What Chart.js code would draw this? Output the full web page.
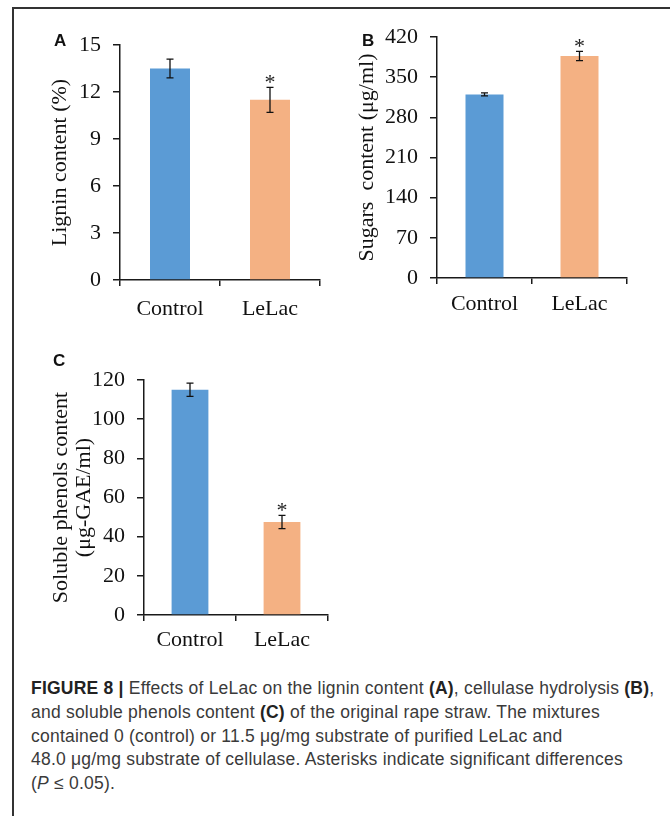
<!DOCTYPE html>
<html>
<head>
<meta charset="utf-8">
<script src="https://cdn.jsdelivr.net/npm/chart.js@4/dist/chart.umd.min.js"></script>
<style>
  html, body { margin: 0; padding: 0; background: #fff; }
  #page { position: relative; width: 670px; height: 816px; overflow: hidden; background: #fff; }
  #frame { position: absolute; left: 12px; top: 7px; width: 680px; height: 830px; box-sizing: border-box;
           border-top: 2px solid #333; border-left: 2px solid #333; z-index: 5; }
  canvas { position: absolute; }
  .panel { position: absolute; font: bold 17px "Liberation Sans", Arial, sans-serif; color: #111; line-height: 1; }
  #caption { position: absolute; left: 31px; top: 677px; font: 17.5px "Liberation Sans", Arial, sans-serif;
             letter-spacing: 0.22px; line-height: 23.8px; color: #3a3a3a; white-space: nowrap; }
  #caption b { color: #222; }
</style>
</head>
<body>
<div id="page">
  <canvas id="chartA" width="340" height="340" style="left:0;top:0"></canvas>
  <canvas id="chartB" width="330" height="340" style="left:340px;top:0"></canvas>
  <canvas id="chartC" width="340" height="320" style="left:0;top:340px"></canvas>
  <div id="frame"></div>
  <div class="panel" style="left:54px;top:32px">A</div>
  <div class="panel" style="left:362px;top:32px">B</div>
  <div class="panel" style="left:53px;top:352px">C</div>
  <div id="caption">
    <b>FIGURE 8 |</b> Effects of LeLac on the lignin content <b>(A)</b>, cellulase hydrolysis <b>(B)</b>,<br>
    and soluble phenols content <b>(C)</b> of the original rape straw. The mixtures<br>
    contained 0 (control) or 11.5 μg/mg substrate of purified LeLac and<br>
    48.0 μg/mg substrate of cellulase. Asterisks indicate significant differences<br>
    (<i>P</i> ≤ 0.05).
  </div>
</div>
<script>
const categories = ["Control", "LeLac"];
const barColors = ["#5B9BD5", "#F4B183"];
const significant = [false, true];

// panel A
const ligninValues = [13.5, 11.5];
const ligninErrors = [0.6, 0.8];
const ligninTicks = [0, 3, 6, 9, 12, 15];

// panel B
const sugarsValues = [320, 387];
const sugarsErrors = [2.5, 8];
const sugarsTicks = [0, 70, 140, 210, 280, 350, 420];

// panel C
const phenolsValues = [115, 47.5];
const phenolsErrors = [3.4, 3.4];
const phenolsTicks = [0, 20, 40, 60, 80, 100, 120];

const axisColor = "#1a1a1a";
const serif = "'Liberation Serif', 'Times New Roman', serif";

// draws the error bars and the asterisks on top of each bar
const errorBarPlugin = {
  id: "errorBars",
  afterDatasetsDraw(chart, args, opts) {
    const { ctx } = chart;
    const yScale = chart.scales.y;
    const meta = chart.getDatasetMeta(0);
    const values = chart.data.datasets[0].data;
    ctx.save();
    ctx.strokeStyle = "#111";
    ctx.lineWidth = 1.3;
    meta.data.forEach((bar, i) => {
      const top = yScale.getPixelForValue(values[i] + opts.errors[i]);
      const bottom = yScale.getPixelForValue(values[i] - opts.errors[i]);
      ctx.beginPath();
      ctx.moveTo(bar.x, top);
      ctx.lineTo(bar.x, bottom);
      ctx.moveTo(bar.x - 3.5, top);
      ctx.lineTo(bar.x + 3.5, top);
      ctx.moveTo(bar.x - 3.5, bottom);
      ctx.lineTo(bar.x + 3.5, bottom);
      ctx.stroke();
      if (significant[i]) {
        ctx.fillStyle = "#222";
        ctx.font = "22px " + serif;
        ctx.textAlign = "center";
        ctx.textBaseline = "alphabetic";
        ctx.fillText("*", bar.x, top + 2);
      }
    });
    ctx.restore();
  },
};

function makeChart(id, values, errors, tickList, yTitle, box) {
  const ctx = document.getElementById(id).getContext("2d");
  return new Chart(ctx, {
    type: "bar",
    data: {
      labels: categories,
      datasets: [
        {
          data: values,
          backgroundColor: barColors,
          barPercentage: 0.4,
          categoryPercentage: 1,
        },
      ],
    },
    options: {
      responsive: false,
      animation: false,
      devicePixelRatio: 1,
      layout: {
        padding: { left: 0, top: box.top, right: box.right, bottom: 0 },
      },
      scales: {
        x: {
          offset: true,
          grid: {
            offset: true,
            drawOnChartArea: false,
            tickLength: 6,
            color: axisColor,
            lineWidth: 1.5,
          },
          border: { color: axisColor, width: 1.5 },
          ticks: { color: "#111", font: { family: serif, size: 22 }, padding: box.labelPad },
          afterFit(scale) {
            scale.height = box.xHeight;
          },
        },
        y: {
          min: tickList[0],
          max: tickList[tickList.length - 1],
          ticks: {
            stepSize: tickList[1] - tickList[0],
            color: "#111",
            font: { family: serif, size: 22 },
            padding: 12,
          },
          grid: {
            drawOnChartArea: false,
            tickLength: 7,
            color: axisColor,
            lineWidth: 1.5,
          },
          border: { color: axisColor, width: 1.5 },
          title: {
            display: true,
            text: yTitle,
            color: "#111",
            font: { family: serif, size: 22, lineHeight: 1.05 },
            padding: { top: box.titlePad, bottom: 0 },
          },
          afterFit(scale) {
            scale.width = box.yWidth;
          },
        },
      },
      plugins: {
        legend: { display: false },
        tooltip: { enabled: false },
        errorBars: { errors: errors },
      },
    },
    plugins: [errorBarPlugin],
  });
}

makeChart("chartA", ligninValues, ligninErrors, ligninTicks, "Lignin content (%)",
  { top: 45, right: 20, xHeight: 60, yWidth: 120, titlePad: 49, labelPad: 10 });
makeChart("chartB", sugarsValues, sugarsErrors, sugarsTicks, "Sugars  content (μg/ml)",
  { top: 37, right: 43, xHeight: 62, yWidth: 97, titlePad: 16, labelPad: 7 });
makeChart("chartC", phenolsValues, phenolsErrors, phenolsTicks, ["Soluble phenols content", "(μg-GAE/ml)"],
  { top: 40, right: 12, xHeight: 45, yWidth: 144, titlePad: 50, labelPad: 6 });
</script>
</body>
</html>
